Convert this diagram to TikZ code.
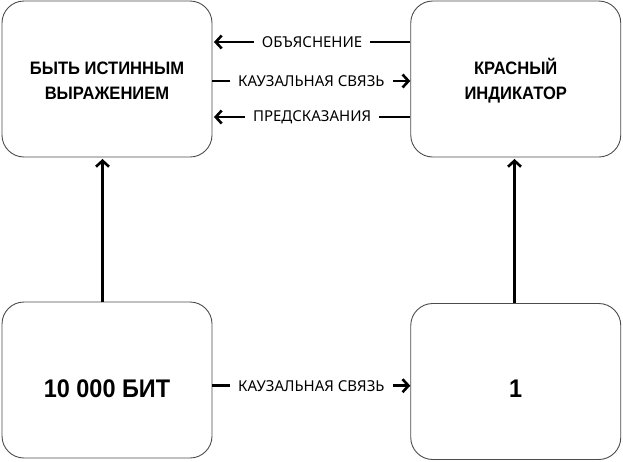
\documentclass[tikz,border=0pt]{standalone}
\usepackage{fontspec}
\setmainfont{Noto Sans}
\newfontfamily\boxfont{Liberation Sans}[FakeStretch=0.92]
\usetikzlibrary{arrows.meta}
\tikzset{
  box/.style={draw=black!70, line width=0.9pt, rounded corners=22pt, minimum width=210pt, minimum height=156pt, inner sep=0pt},
  bigtext/.style={font=\boxfont\bfseries\fontsize{18}{25}\selectfont, align=center, inner sep=0pt},
  hugetext/.style={font=\boxfont\bfseries\fontsize{25.5}{30}\selectfont, inner sep=0pt},
  arr/.style={line width=2.6pt, -{Straight Barb[length=6pt,width=13pt,line width=2.6pt]}},
  lbl/.style={fill=white, font=\fontsize{15}{17}\selectfont, inner xsep=8pt, inner ysep=2pt}
}
\begin{document}
\begin{tikzpicture}[x=1pt,y=-1pt]
\useasboundingbox (0,0) rectangle (623,461);
\node[box] (tl) at (107,79) {};
\node[box] (tr) at (515.75,79) {};
\node[box] (bl) at (107,380) {};
\node[box] (br) at (515.75,381.5) {};
\node[bigtext] (ttl) at (107,80.5) {БЫТЬ ИСТИННЫМ\\ВЫРАЖЕНИЕМ};
\node[bigtext] (ttr) at (515.75,80.5) {КРАСНЫЙ\\ИНДИКАТОР};
\node[hugetext] (tbl) at (107,389) {10 000 БИТ};
\node[hugetext] (tbr) at (515.75,389) {1};
\draw[arr] ([xshift=-4.5pt]bl.north) -- ([xshift=-4.5pt,yshift=-1.5pt]tl.south);
\draw[arr] ([xshift=-1.25pt]br.north) -- ([xshift=-1.25pt,yshift=-1.5pt]tr.south);
\draw[arr] ([yshift=37pt]tr.west) -- node[lbl] (l1) {ОБЪЯСНЕНИЕ} ([yshift=37pt,xshift=1.5pt]tl.east);
\draw[arr] ([yshift=-2pt]tl.east) -- node[lbl] (l2) {КАУЗАЛЬНАЯ СВЯЗЬ} ([yshift=-2pt]tr.west);
\draw[arr] ([yshift=-38pt]tr.west) -- node[lbl] (l3) {ПРЕДСКАЗАНИЯ} ([yshift=-38pt,xshift=1.5pt]tl.east);
\draw[arr] ([yshift=-5.7pt]bl.east) -- node[lbl] (l4) {КАУЗАЛЬНАЯ СВЯЗЬ} ([yshift=-4.2pt]br.west);
\end{tikzpicture}
\end{document}
